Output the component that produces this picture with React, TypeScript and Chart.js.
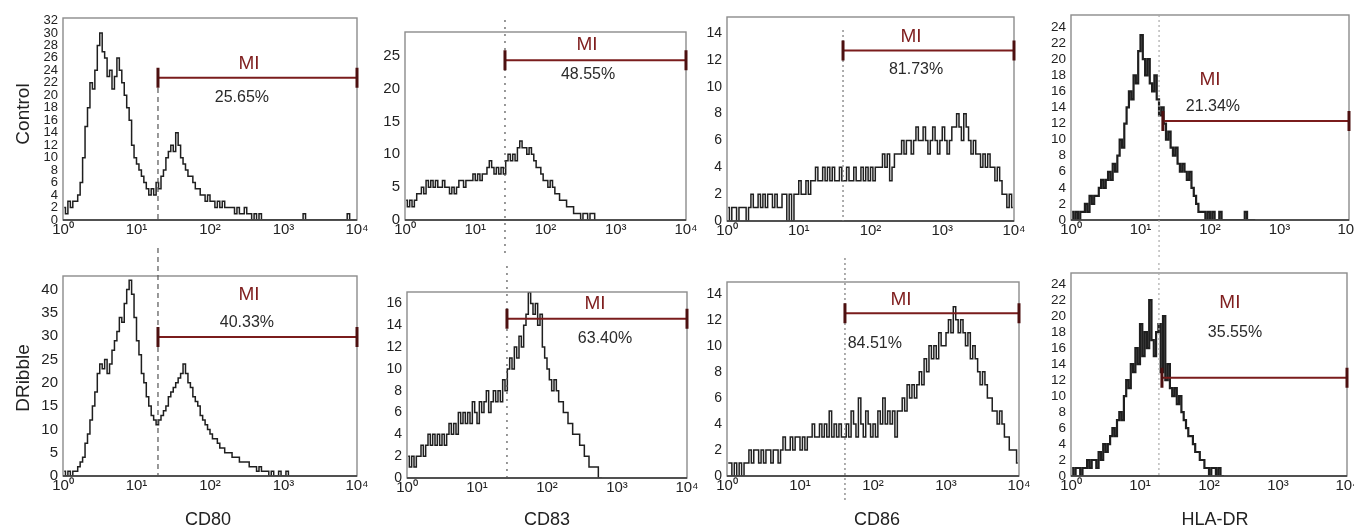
import React, { useEffect, useRef } from 'react';
import { Chart, registerables } from 'chart.js';

Chart.register(...registerables);

// ---------- data ----------
const BINS_PER_DECADE = 30;
const xTickValues = [1, 10, 100, 1000, 10000];
const xTickLabels = ['10⁰', '10¹', '10²', '10³', '10⁴'];

const rowLabels = ['Control', 'DRibble'];
const markerLabels = ['CD80', 'CD83', 'CD86', 'HLA-DR'];

const controlCD80 = [
  2, 1, 3, 2, 3, 3, 4, 6, 10, 15,
  18, 22, 21, 24, 28, 30, 27, 26, 23, 24,
  21, 23, 26, 24, 22, 20, 18, 16, 12, 10,
  9, 8, 7, 6, 5, 4, 5, 4, 6, 5,
  7, 8, 10, 11, 12, 11, 14, 12, 10, 9,
  8, 7, 7, 6, 5, 5, 4, 4, 3, 4,
  3, 3, 2, 3, 2, 3, 2, 2, 2, 2,
  1, 2, 1, 1, 2, 1, 1, 0, 1, 0,
  1, 0, 0, 0, 0, 0, 0, 0, 0, 0,
  0, 0, 0, 0, 0, 0, 0, 0, 1, 0,
  0, 0, 0, 0, 0, 0, 0, 0, 0, 0,
  0, 0, 0, 0, 0, 0, 1, 0, 0, 0,
];
const controlCD83 = [
  3, 2, 3, 2, 3, 4, 4, 5, 4, 6,
  5, 6, 5, 6, 5, 5, 6, 5, 5, 4,
  5, 4, 5, 6, 6, 5, 6, 6, 6, 7,
  6, 7, 6, 7, 7, 8, 9, 8, 7, 8,
  7, 8, 7, 9, 10, 9, 10, 9, 11, 12,
  11, 11, 10, 11, 10, 9, 8, 8, 7, 6,
  6, 5, 6, 5, 4, 4, 3, 3, 3, 2,
  2, 2, 1, 1, 1, 0, 1, 1, 0, 1,
  1, 0,
];
const controlCD86 = [
  1, 0, 1, 1, 0, 1, 1, 1, 0, 1,
  2, 1, 1, 2, 1, 2, 1, 2, 2, 1,
  2, 1, 1, 2, 2, 0, 2, 0, 2, 2,
  3, 2, 2, 3, 2, 3, 3, 4, 3, 3,
  4, 3, 4, 3, 4, 3, 3, 4, 3, 3,
  4, 3, 3, 4, 3, 3, 4, 3, 4, 3,
  4, 3, 4, 4, 4, 5, 4, 5, 3, 4,
  5, 5, 5, 6, 5, 6, 6, 5, 6, 7,
  6, 6, 7, 6, 5, 6, 7, 6, 5, 6,
  7, 6, 5, 6, 7, 7, 8, 7, 6, 8,
  7, 6, 5, 6, 5, 5, 4, 5, 4, 5,
  4, 4, 3, 4, 3, 2, 2, 1, 2, 1,
];
const controlHLADR = [
  1, 0, 1, 0, 1, 1, 2, 1, 3, 2,
  3, 3, 4, 5, 4, 5, 6, 5, 7, 6,
  8, 10, 9, 12, 14, 16, 15, 18, 17, 21,
  23, 20, 18, 20, 17, 16, 18, 15, 13, 14,
  12, 10, 11, 9, 8, 9, 7, 6, 7, 6,
  5, 6, 4, 3, 2, 1, 1, 1, 0, 1,
  0, 1, 0, 0, 1, 0, 0, 0, 0, 0,
  0, 0, 0, 0, 0, 1, 0, 0, 0, 0,
];
const dribbleCD80 = [
  1, 0, 1, 0, 1, 1, 2, 3, 4, 7,
  9, 12, 15, 18, 22, 24, 23, 25, 22, 24,
  27, 29, 31, 34, 33, 37, 40, 42, 39, 34,
  29, 26, 22, 20, 17, 15, 13, 12, 11, 12,
  13, 14, 15, 17, 18, 19, 20, 21, 22, 24,
  22, 20, 19, 17, 16, 15, 13, 12, 11, 10,
  9, 8, 8, 7, 6, 6, 5, 5, 5, 4,
  4, 4, 3, 3, 3, 3, 2, 2, 2, 1,
  2, 1, 1, 1, 0, 1, 0, 0, 1, 0,
  0, 1, 0,
];
const dribbleCD83 = [
  2, 1, 2, 1, 2, 2, 3, 2, 3, 4,
  3, 4, 3, 4, 3, 4, 3, 4, 5, 4,
  5, 4, 6, 5, 6, 5, 6, 5, 7, 6,
  5, 7, 6, 7, 8, 6, 7, 8, 7, 8,
  7, 9, 8, 10, 11, 10, 12, 11, 13, 12,
  14, 15, 17, 16, 15, 16, 14, 15, 12, 11,
  10, 9, 8, 9, 8, 7, 7, 6, 6, 5,
  5, 4, 4, 4, 3, 3, 2, 2, 1, 1,
  1, 1, 0, 0,
];
const dribbleCD86 = [
  1, 1, 0, 1, 0, 1, 0, 1, 1, 2,
  1, 2, 2, 1, 2, 1, 2, 2, 1, 2,
  2, 1, 2, 3, 2, 2, 3, 2, 3, 3,
  2, 3, 2, 3, 3, 4, 3, 3, 4, 3,
  4, 3, 5, 3, 4, 3, 4, 3, 3, 4,
  3, 5, 4, 3, 6, 4, 3, 5, 4, 3,
  4, 3, 5, 4, 6, 4, 5, 4, 5, 3,
  5, 5, 6, 5, 7, 6, 7, 6, 7, 8,
  7, 9, 8, 10, 9, 10, 9, 11, 10, 10,
  11, 12, 11, 13, 12, 11, 12, 11, 10, 11,
  9, 10, 9, 8, 7, 8, 7, 6, 6, 5,
  5, 4, 5, 4, 3, 3, 2, 2, 2, 1,
];
const dribbleHLADR = [
  1, 0, 1, 1, 0, 1, 1, 2, 1, 2,
  2, 1, 3, 2, 4, 3, 4, 5, 6, 5,
  7, 8, 7, 10, 12, 11, 14, 13, 16, 14,
  19, 15, 18, 16, 22, 17, 15, 18, 19, 13,
  20, 12, 14, 11, 10, 11, 9, 10, 8, 7,
  6, 5, 5, 4, 3, 3, 2, 2, 1, 1,
  0, 1, 1, 0, 1, 0, 0,
];

const panelSeries = [
  controlCD80, controlCD83, controlCD86, controlHLADR,
  dribbleCD80, dribbleCD83, dribbleCD86, dribbleHLADR,
];
const miPercents = ['25.65%', '48.55%', '81.73%', '21.34%', '40.33%', '63.40%', '84.51%', '35.55%'];
const gateValues = [19.6, 26.5, 41.4, 18.5, 19.6, 26.8, 41.3, 18.8];
const miStartValues = [19.6, 26.5, 41.4, 21, 19.6, 26.8, 41.3, 20.8];
const miEndValue = 10000;
const miLevels = [22.8, 24.3, 12.7, 12.3, 29.8, 14.6, 12.5, 12.3];
const miLabelAt = [[340, 25], [390, 26.6], [367, 13.7], [100, 17.4], [340, 38.8], [485, 16], [242, 13.5], [201, 21.65]];
const pctLabelAt = [[272, 19.7], [403, 22.1], [431, 11.25], [110, 14.05], [318, 33], [674, 12.74], [106, 10.2], [238, 17.9]];
const yMaxValues = [32.4, 28.6, 15.2, 25.5, 42.9, 17.05, 14.9, 25.4];
const yStepValues = [2, 5, 2, 2, 5, 2, 2, 2];

// ---------- layout / style ----------
const FONT = '"Liberation Sans", Arial, Helvetica, sans-serif';
const PAD_T = 40;
const PAD_R = 12;
const PAD_B = 18;
const Y_AXIS_W = 46;
const X_AXIS_H = 22;

// plot areas in page pixels
const boxes = [
  { l: 63, t: 18, r: 357, b: 220 },
  { l: 405, t: 32, r: 686, b: 220 },
  { l: 727, t: 17, r: 1014, b: 221 },
  { l: 1071, t: 15, r: 1349, b: 220 },
  { l: 63, t: 276, r: 357, b: 476 },
  { l: 407, t: 292, r: 687, b: 478 },
  { l: 727, t: 282, r: 1019, b: 476 },
  { l: 1071, t: 273, r: 1347, b: 476 },
];
const gateStyles = [
  { top: 52, bottom: 0, dash: [5, 4], color: '#555' },
  { top: -12, bottom: 37, dash: [2, 5], color: '#555' },
  { top: 13, bottom: 0, dash: [2, 3], color: '#777' },
  { top: 0, bottom: 38, dash: [2, 3], color: '#aaa' },
  { top: -28, bottom: 0, dash: [5, 4], color: '#555' },
  { top: -26, bottom: 2, dash: [2, 5], color: '#555' },
  { top: -24, bottom: 24, dash: [2, 3], color: '#777' },
  { top: -10, bottom: 0, dash: [2, 3], color: '#aaa' },
];
const yFontSizes = [13, 15, 14, 13.5, 15, 14, 14, 13.5];
const lineWidths = [1.5, 1.5, 1.5, 2.2, 1.5, 1.5, 1.5, 2.2];

const decorPlugin = {
  id: 'flowDecor',
  afterDraw(chart: any, _args: any, opts: any) {
    const { ctx, chartArea: a, scales } = chart;
    const x = scales.x;
    const y = scales.y;
    ctx.save();
    // frame
    ctx.strokeStyle = '#8c8c8c';
    ctx.lineWidth = 1.4;
    ctx.strokeRect(a.left, a.top, a.right - a.left, a.bottom - a.top);
    ctx.strokeStyle = '#333';
    ctx.lineWidth = 1.6;
    ctx.beginPath();
    ctx.moveTo(a.left, a.bottom);
    ctx.lineTo(a.right, a.bottom);
    ctx.stroke();
    // gate line
    const gx = x.getPixelForValue(opts.gate);
    ctx.setLineDash(opts.gateDash);
    ctx.strokeStyle = opts.gateColor;
    ctx.lineWidth = 1.2;
    ctx.beginPath();
    ctx.moveTo(gx, a.top + opts.gateTop);
    ctx.lineTo(gx, a.bottom + opts.gateBottom);
    ctx.stroke();
    ctx.setLineDash([]);
    // MI bar
    const x1 = x.getPixelForValue(opts.miStart);
    const x2 = x.getPixelForValue(opts.miEnd);
    const by = y.getPixelForValue(opts.miLevel);
    ctx.strokeStyle = '#7a1c1c';
    ctx.lineWidth = 2;
    ctx.beginPath();
    ctx.moveTo(x1, by);
    ctx.lineTo(x2, by);
    ctx.stroke();
    ctx.strokeStyle = '#4d1010';
    ctx.lineWidth = 3;
    ctx.beginPath();
    ctx.moveTo(x1, by - 10);
    ctx.lineTo(x1, by + 10);
    ctx.moveTo(x2, by - 10);
    ctx.lineTo(x2, by + 10);
    ctx.stroke();
    // texts
    ctx.textAlign = 'center';
    ctx.textBaseline = 'middle';
    ctx.fillStyle = '#7f1e1e';
    ctx.font = `19px ${FONT}`;
    ctx.fillText('MI', x.getPixelForValue(opts.miLabel[0]), y.getPixelForValue(opts.miLabel[1]));
    ctx.fillStyle = '#2a2a2a';
    ctx.font = `16px ${FONT}`;
    ctx.fillText(opts.pct, x.getPixelForValue(opts.pctLabel[0]), y.getPixelForValue(opts.pctLabel[1]));
    ctx.restore();
  },
};

function Panel({ idx }: { idx: number }) {
  const ref = useRef<HTMLCanvasElement | null>(null);
  const box = boxes[idx];
  const width = box.r - box.l + Y_AXIS_W + PAD_R;
  const height = box.b - box.t + PAD_T + X_AXIS_H + PAD_B;

  useEffect(() => {
    const values = panelSeries[idx];
    const points = values.map((v, i) => ({ x: Math.pow(10, (i + 0.5) / BINS_PER_DECADE), y: v }));
    const g = gateStyles[idx];
    const chart = new Chart(ref.current as HTMLCanvasElement, {
      type: 'line',
      data: {
        datasets: [
          {
            data: points,
            borderColor: 'rgba(12,12,12,0.92)',
            borderWidth: lineWidths[idx],
            pointRadius: 0,
            stepped: 'middle',
            fill: false,
          },
        ],
      },
      options: {
        responsive: false,
        animation: false,
        devicePixelRatio: 1,
        layout: { padding: { left: 0, top: PAD_T, right: PAD_R, bottom: PAD_B } },
        plugins: {
          legend: { display: false },
          tooltip: { enabled: false },
          flowDecor: {
            gate: gateValues[idx],
            gateTop: g.top,
            gateBottom: g.bottom,
            gateDash: g.dash,
            gateColor: g.color,
            miStart: miStartValues[idx],
            miEnd: miEndValue,
            miLevel: miLevels[idx],
            miLabel: miLabelAt[idx],
            pctLabel: pctLabelAt[idx],
            pct: miPercents[idx],
          },
        } as any,
        scales: {
          x: {
            type: 'logarithmic',
            min: 1,
            max: 10000,
            grid: { display: false, drawTicks: false },
            border: { display: false },
            afterBuildTicks: (s: any) => {
              s.ticks = xTickValues.map((v) => ({ value: v, major: true }));
            },
            afterFit: (s: any) => {
              s.height = X_AXIS_H;
              s.paddingLeft = 0;
              s.paddingRight = 0;
            },
            ticks: {
              autoSkip: false,
              maxRotation: 0,
              minRotation: 0,
              padding: 1,
              color: '#222',
              font: { family: FONT, size: 15 },
              callback: (v: any) => {
                const k = xTickValues.indexOf(Number(v));
                return k >= 0 ? xTickLabels[k] : '';
              },
            },
          },
          y: {
            type: 'linear',
            min: 0,
            max: yMaxValues[idx],
            grid: { display: false, drawTicks: false },
            border: { display: false },
            afterFit: (s: any) => {
              s.width = Y_AXIS_W;
              s.paddingTop = 0;
              s.paddingBottom = 0;
            },
            ticks: {
              stepSize: yStepValues[idx],
              autoSkip: false,
              includeBounds: false,
              padding: 5,
              color: '#222',
              font: { family: FONT, size: yFontSizes[idx] },
            },
          },
        } as any,
      },
      plugins: [decorPlugin as any],
    });
    return () => chart.destroy();
  }, [idx]);

  return (
    <canvas
      ref={ref}
      width={width}
      height={height}
      style={{
        position: 'absolute',
        left: box.l - Y_AXIS_W,
        top: box.t - PAD_T,
        width,
        height,
      }}
    />
  );
}

const rowLabelPos = [
  { x: 22, y: 114 },
  { x: 22, y: 378 },
];
const colLabelPos = [
  { x: 208, y: 519 },
  { x: 547, y: 519 },
  { x: 877, y: 519 },
  { x: 1215, y: 519 },
];

export default function App() {
  return (
    <div
      style={{
        position: 'fixed',
        left: 0,
        top: 0,
        width: 1354,
        height: 526,
        overflow: 'hidden',
        background: '#fff',
        fontFamily: FONT,
        color: '#222',
      }}
    >
      {panelSeries.map((_, i) => (
        <Panel key={i} idx={i} />
      ))}
      {rowLabels.map((t, i) => (
        <div
          key={t}
          style={{
            position: 'absolute',
            left: rowLabelPos[i].x,
            top: rowLabelPos[i].y,
            transform: 'translate(-50%, -50%) rotate(-90deg)',
            fontSize: 19,
            whiteSpace: 'nowrap',
            lineHeight: 1,
          }}
        >
          {t}
        </div>
      ))}
      {markerLabels.map((t, i) => (
        <div
          key={t}
          style={{
            position: 'absolute',
            left: colLabelPos[i].x,
            top: colLabelPos[i].y,
            transform: 'translate(-50%, -50%)',
            fontSize: 18,
            whiteSpace: 'nowrap',
            lineHeight: 1,
          }}
        >
          {t}
        </div>
      ))}
    </div>
  );
}
